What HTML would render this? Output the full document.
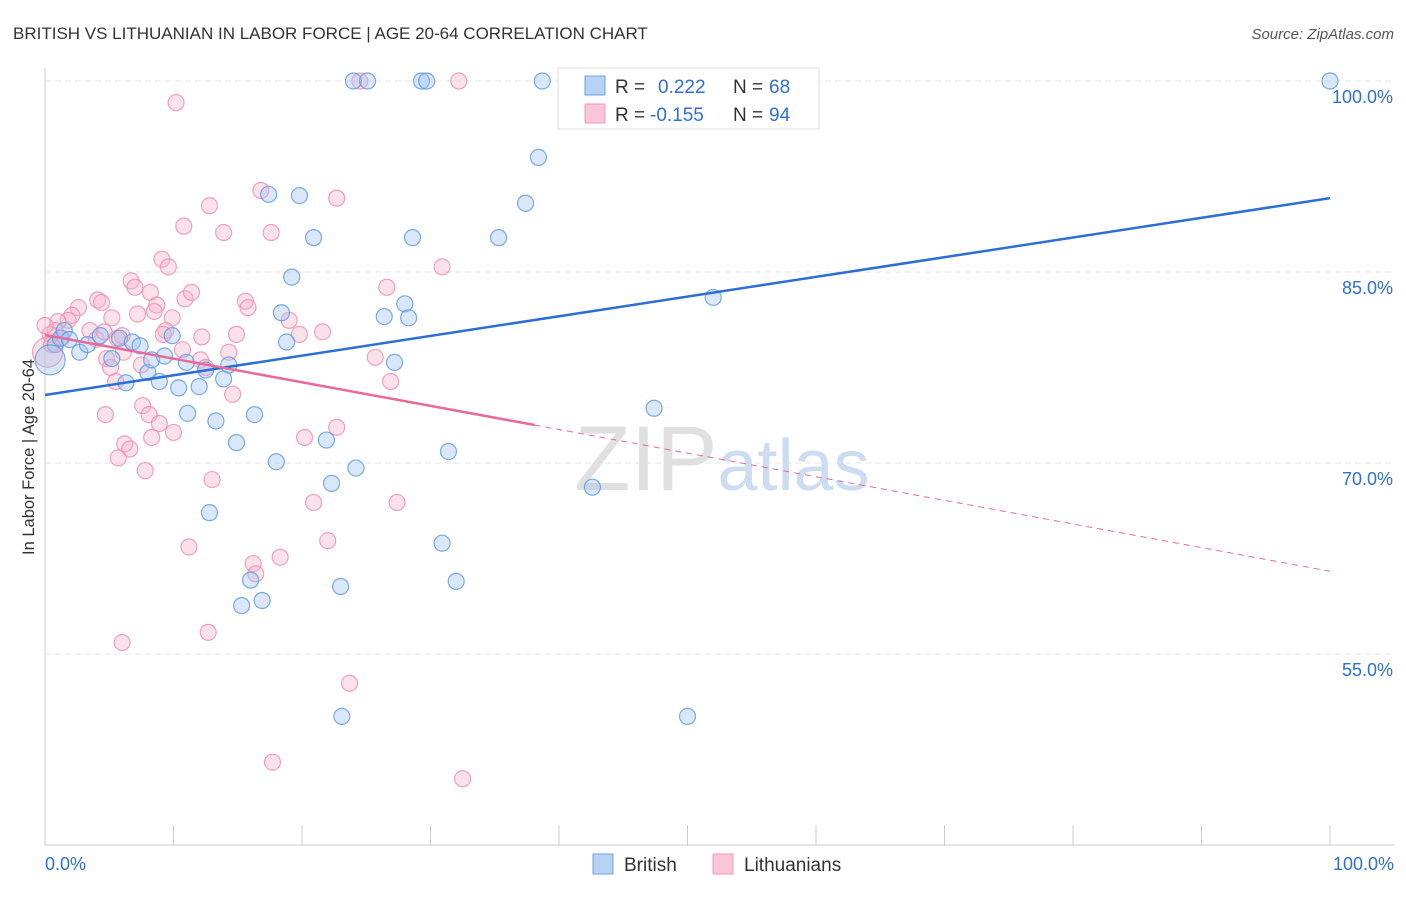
<!DOCTYPE html>
<html><head><meta charset="utf-8">
<style>
body{margin:0;background:#fff;font-family:"Liberation Sans",sans-serif;}
svg text{font-family:"Liberation Sans",sans-serif;}
</style></head>
<body>
<svg id="chart" width="1406" height="892" viewBox="0 0 1406 892" xmlns="http://www.w3.org/2000/svg">
<text x="13" y="39" font-size="17" fill="#333">BRITISH VS LITHUANIAN IN LABOR FORCE | AGE 20-64 CORRELATION CHART</text>
<text x="1394" y="39" font-size="15" fill="#555" text-anchor="end" font-style="italic">Source: ZipAtlas.com</text>
<text transform="translate(34,457) rotate(-90)" font-size="16.5" fill="#333" text-anchor="middle">In Labor Force | Age 20-64</text>
<g id="grid"></g>
<text x="722" y="490" font-size="92" fill="#e0e0e0" text-anchor="middle" font-family="Liberation Serif">ZIP<tspan fill="#cddcf2" font-family="Liberation Sans" font-size="72">atlas</tspan></text>
<g id="points"></g>
<g id="trends"></g>
<g>
<rect x="558" y="68" width="261" height="61" fill="#fff" stroke="#ddd"/>
<rect x="585" y="76" width="20" height="19" fill="#b8d2f5" stroke="#6fa3e3"/>
<text x="615" y="93" font-size="19" fill="#333">R =</text>
<text x="658" y="93" font-size="19" fill="#2f6fd6">0.222</text>
<text x="733" y="93" font-size="19" fill="#333">N =</text>
<text x="769" y="93" font-size="19" fill="#2f6fd6">68</text>
<rect x="585" y="104" width="20" height="19" fill="#f8c6d6" stroke="#f09ab8"/>
<text x="615" y="121" font-size="19" fill="#333">R =</text>
<text x="650" y="121" font-size="19" fill="#2f6fd6">-0.155</text>
<text x="733" y="121" font-size="19" fill="#333">N =</text>
<text x="769" y="121" font-size="19" fill="#2f6fd6">94</text>
</g>
<g>
<rect x="593" y="854" width="20" height="20" fill="#b8d2f5" stroke="#6fa3e3"/>
<text x="624" y="871" font-size="19" fill="#333">British</text>
<rect x="713" y="854" width="20" height="20" fill="#f8c6d6" stroke="#f09ab8"/>
<text x="744" y="871" font-size="19" fill="#333">Lithuanians</text>
</g>
</svg>
<script>
const yTicks=[100,85,70,55];
const yTickLabels=["100.0%","85.0%","70.0%","55.0%"];
const xTickLabels=["0.0%","100.0%"];
const britishX=[24.0,25.1,29.3,29.7,38.7,47.9,100,38.4,17.4,19.8,37.4,20.9,28.6,35.3,19.2,52.0,18.4,28.0,26.4,28.3,18.8,27.2,0.8,1.2,2.7,3.3,4.3,5.2,5.8,6.8,7.4,6.3,8.0,8.3,8.9,9.3,9.9,10.4,11.0,12.0,11.1,12.5,13.3,13.9,14.3,14.9,16.3,18.0,21.9,22.3,24.2,31.4,47.4,12.8,42.6,30.9,32.0,16.0,15.3,16.9,23.0,23.1,50.0,1.5,1.9,0.4];
const britishY=[100,100,100,100,100,100,100,94.0,91.1,91.0,90.4,87.7,87.7,87.7,84.6,83.0,81.8,82.5,81.5,81.4,79.5,77.9,79.3,79.8,78.7,79.3,80.0,78.2,79.8,79.5,79.2,76.3,77.1,78.1,76.4,78.4,80.0,75.9,77.9,76.0,73.9,77.3,73.3,76.6,77.7,71.6,73.8,70.1,71.8,68.4,69.6,70.9,74.3,66.1,68.1,63.7,60.7,60.8,58.8,59.2,60.3,50.1,50.1,80.4,79.7,78.1];
const lithX=[32.2,24.5,10.2,16.8,22.7,12.8,10.8,13.9,17.6,9.1,9.6,6.7,7.0,8.2,30.9,26.6,4.1,4.4,10.9,11.4,8.7,15.6,15.8,5.2,7.2,8.5,9.9,19.0,21.6,19.8,14.9,12.2,9.4,9.2,2.6,2.1,1.8,1.0,0.8,0.4,1.3,3.5,4.0,4.6,5.6,6.0,4.8,6.1,10.7,14.3,12.1,12.5,5.1,7.5,25.7,26.9,5.5,14.6,7.6,4.7,8.1,8.9,10.0,6.2,8.3,6.6,5.7,7.8,20.2,22.7,13.0,20.9,27.4,22.0,11.2,16.2,18.3,16.4,12.7,6.0,23.7,17.7,32.5,0.2,0.5,0];
const lithY=[100,100,98.3,91.4,90.8,90.2,88.6,88.1,88.1,86.0,85.4,84.3,83.8,83.4,85.4,83.8,82.8,82.6,82.9,83.4,82.4,82.7,82.2,81.4,81.7,81.9,81.4,81.2,80.3,80.1,80.1,79.9,80.4,80.1,82.2,81.6,81.2,81.1,80.4,80.1,79.8,80.4,79.7,80.3,79.8,80.0,78.2,78.7,78.9,78.7,78.1,77.5,77.5,77.7,78.3,76.4,76.4,75.4,74.5,73.8,73.8,73.1,72.4,71.5,72.0,71.1,70.4,69.4,72.0,72.8,68.7,66.9,66.9,63.9,63.4,62.1,62.6,61.3,56.7,55.9,52.7,46.5,45.2,78.7,79.3,80.8];
const britishTrend=[75.34,90.8];
const lithTrend=[80.05,61.5];
const lithSolidEnd=38.1;

const NS="http://www.w3.org/2000/svg";
const X=v=>45+v*12.85;
const Y=v=>81+(100-v)*12.733;
function mk(tag,attrs,parent){const e=document.createElementNS(NS,tag);for(const k in attrs)e.setAttribute(k,attrs[k]);parent.appendChild(e);return e;}
const grid=document.getElementById('grid');
yTicks.forEach((t,i)=>{
 const l=mk('line',{x1:45,x2:1395,y1:Y(t),y2:Y(t),stroke:'#e4e4e4','stroke-dasharray':'6,4'},grid);
 
 
 const tx=mk('text',{x:1393,y:Y(t)+22,'font-size':18,fill:'#2f6fd6','text-anchor':'end'},grid);
 tx.textContent=yTickLabels[i];
 
 
});
const ax=mk('line',{x1:45,x2:1395,y1:845,y2:845,stroke:'#ccc'},grid);


const ay=mk('line',{x1:45,x2:45,y1:68,y2:845,stroke:'#ccc'},grid);


for(let i=0;i<=10;i++){
 const t=mk('line',{x1:X(i*10),x2:X(i*10),y1:825,y2:845,stroke:'#ccc'},grid);
 
 
}
[[0,'start',45],[100,'end',1394]].forEach((d,i)=>{
 const t=mk('text',{x:d[2],y:870,'font-size':18,fill:'#2f6fd6','text-anchor':d[1]},grid);
 t.textContent=xTickLabels[i];
 
 
});
const pts=document.getElementById('points');
function draw(xs,ys,fill,stroke,name){
 xs.forEach((x,i)=>{
  const big=(x<=0.4&&Math.abs(ys[i]-78.4)<0.5);
  const c=mk('circle',{cx:X(x),cy:Y(ys[i]),r:big?15:8,fill:fill,'fill-opacity':0.4,stroke:stroke,'stroke-width':1.2,'stroke-opacity':0.8},pts);
  
  
 });
}
draw(lithX,lithY,'#f6b3c9','#ef8cae','lithuanian-point');
draw(britishX,britishY,'#9fc3f0','#5a98e0','british-point');
const tr=document.getElementById('trends');
const b=mk('line',{x1:X(0),y1:Y(britishTrend[0]),x2:X(100),y2:Y(britishTrend[1]),stroke:'#2b6fd4','stroke-width':2.5},tr);


const ly=x=>lithTrend[0]+(lithTrend[1]-lithTrend[0])*x/100;
const l1=mk('line',{x1:X(0),y1:Y(ly(0)),x2:X(lithSolidEnd),y2:Y(ly(lithSolidEnd)),stroke:'#e8699a','stroke-width':2.5},tr);


const l2=mk('line',{x1:X(lithSolidEnd),y1:Y(ly(lithSolidEnd)),x2:X(100),y2:Y(ly(100)),stroke:'#e8699a','stroke-width':1,'stroke-dasharray':'6,5'},tr);


</script>
</body></html>
